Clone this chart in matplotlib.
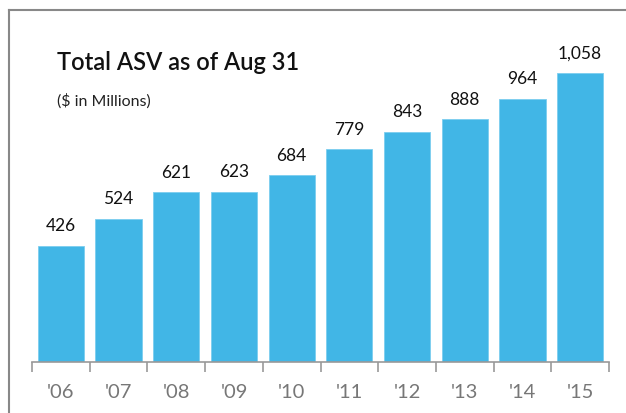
import matplotlib.pyplot as plt
from matplotlib.lines import Line2D

years = ["'06", "'07", "'08", "'09", "'10", "'11", "'12", "'13", "'14", "'15"]
asv = [426, 524, 621, 623, 684, 779, 843, 888, 964, 1058]
asv_labels = ["426", "524", "621", "623", "684", "779", "843", "888", "964", "1,058"]

W, H = 626, 414
fig = plt.figure(figsize=(W / 100, H / 100), dpi=100)
plt.rcParams['font.family'] = ['Lato', 'DejaVu Sans']

# axes: x from 32 to 609 px, y baseline at 363 px
ax = fig.add_axes([32 / W, (H - 363) / H, (609 - 32) / W, (363 - 40) / H])
x = range(len(years))
ax.bar(x, asv, width=0.8, color='#41b6e6', edgecolor='#7ccdef', linewidth=0.6)
ax.set_xlim(-0.5, len(years) - 0.5)
ax.set_ylim(0, 323 / 0.2732)

for xi, v, lab in zip(x, asv, asv_labels):
    ax.annotate(lab, (xi, v), xytext=(0, 9), textcoords='offset points',
                ha='center', va='bottom', fontsize=12.5, color='#111111')

for s in ['top', 'right', 'left']:
    ax.spines[s].set_visible(False)
ax.spines['bottom'].set_color('#999999')
ax.spines['bottom'].set_linewidth(1.2)
ax.set_yticks([])
ax.set_xticks([i - 0.5 for i in range(len(years) + 1)], minor=False)
ax.set_xticklabels([])
ax.tick_params(axis='x', which='major', length=7, width=1.2, color='#999999')
ax.set_xticks(list(x), minor=True)
ax.set_xticklabels(years, minor=True)
ax.tick_params(axis='x', which='minor', length=0, pad=15, labelsize=14.5, labelcolor='#777777')

# partial frame (left and top edges)
fig.add_artist(Line2D([9 / W, 9 / W], [0, 1 - 11 / H], color='#888888', lw=1.5))
fig.add_artist(Line2D([9 / W, 1], [1 - 11 / H, 1 - 11 / H], color='#888888', lw=1.5))

fig.text(57 / W, 1 - 70 / H, 'Total ASV as of Aug 31', fontsize=17, fontweight='semibold',
         color='#111111', va='baseline')
fig.text(57 / W, 1 - 106 / H, '($ in Millions)', fontsize=11.5, color='#222222', va='baseline')

fig.savefig('out.png', dpi=100)
